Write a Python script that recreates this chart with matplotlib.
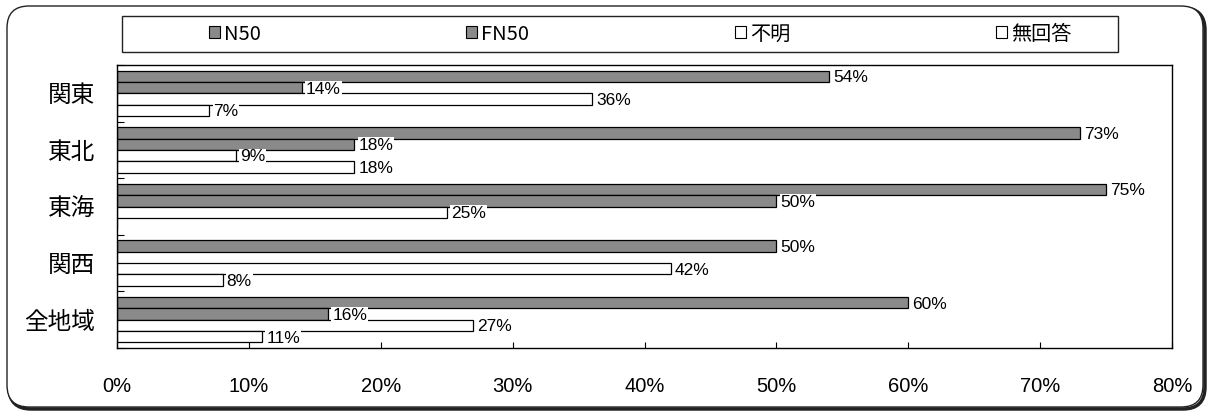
import numpy as np
import matplotlib
matplotlib.use('Agg')
import matplotlib.pyplot as plt
from matplotlib.patches import Patch, FancyBboxPatch, Rectangle
from matplotlib.transforms import IdentityTransform

plt.rcParams['font.family'] = ['Noto Sans CJK JP', 'DejaVu Sans']

# Survey results by region (percent)
regions = ['関東', '東北', '東海', '関西', '全地域']
series_names = ['N50', 'FN50', '不明', '無回答']
n50 = [54, 73, 75, 50, 60]
fn50 = [14, 18, 50, 0, 16]
unknown = [36, 9, 25, 42, 27]
no_answer = [7, 18, 0, 8, 11]
xticks = [0, 10, 20, 30, 40, 50, 60, 70, 80]

series = [n50, fn50, unknown, no_answer]
colors = ['#8a8a8a', '#8a8a8a', 'white', 'white']
num_font = ['Liberation Sans Narrow', 'Liberation Sans', 'DejaVu Sans']

fig = plt.figure(figsize=(12.1, 4.13), dpi=100)

# Rounded outer frame with a drop shadow on the right/bottom
shadow = FancyBboxPatch((9, 4), 1196, 401, boxstyle='round,pad=0,rounding_size=22',
                        transform=IdentityTransform(), facecolor='none',
                        edgecolor='#222222', lw=2.5, zorder=0)
frame = FancyBboxPatch((7, 6), 1196, 401, boxstyle='round,pad=0,rounding_size=22',
                       transform=IdentityTransform(), facecolor='white',
                       edgecolor='#222222', lw=1.0, zorder=0)
fig.patches.extend([shadow, frame])

ax = fig.add_axes([117 / 1210, 1 - 348 / 413, (1172 - 117) / 1210, (348 - 65) / 413])
ax.set_zorder(2)

y = np.arange(len(regions))
h = 0.2
offsets = [-1.5 * h, -0.5 * h, 0.5 * h, 1.5 * h]

for vals, off, col in zip(series, offsets, colors):
    ax.barh(y + off, vals, height=h, color=col, edgecolor='black', linewidth=0.9, zorder=2)
    for yi, v in zip(y, vals):
        if v == 0:
            continue
        ax.annotate(f'{v}%', (v, yi + off), xytext=(3, -1), textcoords='offset points',
                    va='center', ha='left', fontsize=12.5, family=num_font, zorder=4,
                    bbox=dict(boxstyle='square,pad=0.05', facecolor='white', edgecolor='none'))

ax.set_xlim(0, 80)
ax.set_ylim(len(regions) - 0.5, -0.5)
ax.set_xticks(xticks)
ax.set_xticklabels([f'{t}%' for t in xticks], family=num_font, fontsize=14.5)
ax.tick_params(axis='x', direction='in', length=4, width=0.8, pad=21)

ax.set_yticks(y)
ax.set_yticklabels(regions, fontsize=17)
ax.tick_params(axis='y', which='major', length=0, pad=16)
ax.set_yticks(np.arange(-0.5, len(regions), 1.0), minor=True)
ax.tick_params(axis='y', which='minor', direction='in', length=5, width=0.8)

for sp in ax.spines.values():
    sp.set_linewidth(1.0)
    sp.set_color('black')

# Legend strip at the top
box = Rectangle((122, 413 - 52), 996, 36, transform=IdentityTransform(),
                facecolor='white', edgecolor='#222222', lw=1.0, zorder=1)
fig.patches.append(box)
handles = [Patch(facecolor=c, edgecolor='black', linewidth=0.8) for c in colors]
fig.legend(handles, series_names, loc='center', bbox_to_anchor=(640 / 1210, 1 - 34 / 413),
           ncol=4, frameon=False, fontsize=14.5, handlelength=0.55, handleheight=0.55,
           handletextpad=0.2, columnspacing=10.2)

plt.savefig('out.png', dpi=100)
